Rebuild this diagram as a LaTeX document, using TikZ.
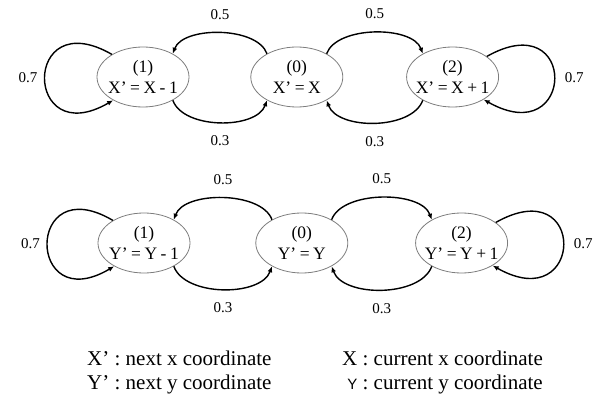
\documentclass[tikz,border=0pt]{standalone}
\usepackage{fontspec}
\setmainfont{Liberation Serif}
\newfontfamily\sansY{Liberation Sans}
\usetikzlibrary{positioning, arrows.meta, shapes.geometric}
\definecolor{rimgray}{RGB}{125,125,125}
\newcommand\tightsp{\spaceskip=0.2em\relax}

\begin{document}
\begin{tikzpicture}[
  x=1pt, y=1pt,
  stateb/.style={draw=rimgray, ellipse, line width=0.8pt,
                 minimum width=92pt, minimum height=60pt,
                 inner xsep=-8pt, inner ysep=0pt, align=center,
                 font=\fontsize{17.5}{20.5}\selectfont\tightsp},
  arr/.style={-{Latex[length=6pt,width=5pt]}, line width=1.4pt},
  prob/.style={inner sep=0pt, font=\fontsize{15}{17}\selectfont},
  legend/.style={inner sep=0pt, font=\fontsize{21}{24}\selectfont},
]
\useasboundingbox (0,0) rectangle (595,397);

% Top row: x states
\node[stateb] (x1) at (143,320) {(1)\\X’ = X - 1};
\node[stateb, right=61pt of x1] (x0) {(0)\\X’ = X};
\node[stateb, right=63pt of x0] (x2) {(2)\\X’ = X + 1};

% Self loops
\draw[arr] (x1.144) .. controls +(-90,52) and +(-90,-52) .. node[prob, left=7pt] {0.7} (x1.218);
\draw[arr] (x2.31) .. controls +(92,52) and +(92,-52) .. node[prob, right=10pt] {0.7} (x2.324);

% Moves between states
\draw[arr] (x0.142) to[out=110, in=70, looseness=0.8] node[prob, above=13pt] {0.5} (x1.38);
\draw[arr] (x0.38) to[out=70, in=110, looseness=0.8] node[prob, above=13pt] {0.5} (x2.142);
\draw[arr] (x1.322) to[out=-70, in=-110, looseness=0.85] node[prob, below=13pt] {0.3} (x0.218);
\draw[arr] (x2.218) to[out=-110, in=-70, looseness=0.85] node[prob, below=13pt] {0.3} (x0.322);

% Bottom row: y states
\node[stateb] (y1) at (144,154) {(1)\\Y’ = Y - 1};
\node[stateb, right=65pt of y1] (y0) {(0)\\Y’ = Y};
\node[stateb, right=67pt of y0] (y2) {(2)\\Y’ = Y + 1};

% Self loops
\draw[arr] (y1.144) .. controls +(-88,52) and +(-88,-52) .. node[prob, left=7pt] {0.7} (y1.218);
\draw[arr] (y2.31) .. controls +(92,52) and +(92,-52) .. node[prob, right=10pt] {0.7} (y2.324);

% Moves between states
\draw[arr] (y0.142) to[out=110, in=70, looseness=0.8] node[prob, above=13pt] {0.5} (y1.38);
\draw[arr] (y0.38) to[out=70, in=110, looseness=0.8] node[prob, above=13pt] {0.5} (y2.142);
\draw[arr] (y1.322) to[out=-70, in=-110, looseness=0.85] node[prob, below=13pt] {0.3} (y0.218);
\draw[arr] (y2.218) to[out=-110, in=-70, looseness=0.85] node[prob, below=13pt] {0.3} (y0.322);

% Legend
\node[legend, anchor=base west] (nx) at (87,32) {X’ : next x coordinate};
\node[legend, anchor=base west] (ny) at (87,8) {Y’ : next y coordinate};
\node[legend, anchor=base east] (cx) at (543,32) {X : current x coordinate};
\node[legend, anchor=base east] (cy) at (543,8) {{\sansY\fontsize{15}{17}\selectfont Y} : current y coordinate};
\end{tikzpicture}
\end{document}
